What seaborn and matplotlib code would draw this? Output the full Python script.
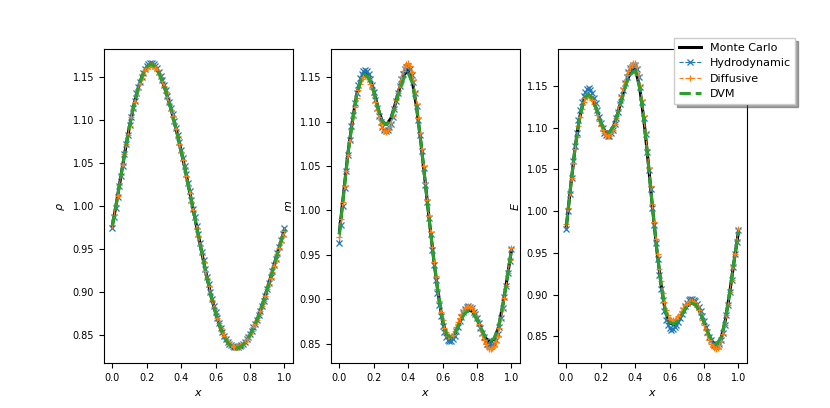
import numpy as np
import matplotlib
matplotlib.use("Agg")
import matplotlib.pyplot as plt
import seaborn as sns

# the reference lines (MC, DVM) read on a 0.025 grid; marker series are sampled every 0.01
x_line = np.linspace(0.0, 1.0, 41)
x_mark = np.linspace(0.0, 1.0, 101)

# ---- density rho ----
rho_mc = [0.977, 1.005, 1.035, 1.065, 1.093, 1.117, 1.137, 1.152, 1.162, 1.165,
          1.162, 1.153, 1.140, 1.124, 1.106, 1.086, 1.064, 1.041, 1.016, 0.991,
          0.966, 0.941, 0.917, 0.895, 0.876, 0.860, 0.848, 0.840, 0.835, 0.834,
          0.836, 0.842, 0.850, 0.860, 0.872, 0.887, 0.903, 0.920, 0.938, 0.955, 0.972]
rho_dvm = [0.977, 1.005, 1.035, 1.065, 1.093, 1.117, 1.137, 1.152, 1.162, 1.165,
           1.162, 1.153, 1.140, 1.124, 1.106, 1.086, 1.064, 1.041, 1.016, 0.991,
           0.966, 0.941, 0.917, 0.895, 0.876, 0.860, 0.848, 0.840, 0.836, 0.835,
           0.837, 0.842, 0.850, 0.860, 0.872, 0.887, 0.903, 0.920, 0.938, 0.955, 0.972]
rho_hydro = [0.975, 0.987, 0.998, 1.010, 1.023, 1.035, 1.047, 1.060, 1.072, 1.083, 1.094,
             1.104, 1.114, 1.122, 1.131, 1.138, 1.144, 1.150, 1.155, 1.159, 1.163,
             1.165, 1.166, 1.166, 1.165, 1.163, 1.160, 1.156, 1.151, 1.146, 1.141,
             1.135, 1.128, 1.121, 1.114, 1.107, 1.099, 1.091, 1.083, 1.074, 1.065,
             1.056, 1.047, 1.037, 1.027, 1.017, 1.007, 0.997, 0.987, 0.977, 0.967,
             0.957, 0.947, 0.937, 0.927, 0.918, 0.909, 0.900, 0.892, 0.884, 0.877,
             0.870, 0.864, 0.858, 0.853, 0.849, 0.845, 0.842, 0.840, 0.838, 0.837,
             0.836, 0.836, 0.836, 0.837, 0.838, 0.840, 0.842, 0.845, 0.848, 0.851,
             0.855, 0.859, 0.863, 0.868, 0.873, 0.878, 0.884, 0.890, 0.896, 0.903,
             0.910, 0.917, 0.924, 0.931, 0.938, 0.945, 0.952, 0.960, 0.967, 0.974]
rho_diff = [0.978, 0.990, 1.001, 1.012, 1.024, 1.036, 1.048, 1.060, 1.072, 1.083, 1.093,
            1.103, 1.113, 1.121, 1.129, 1.136, 1.143, 1.149, 1.154, 1.158, 1.161,
            1.163, 1.164, 1.164, 1.163, 1.161, 1.158, 1.154, 1.150, 1.145, 1.139,
            1.133, 1.127, 1.120, 1.112, 1.105, 1.097, 1.089, 1.081, 1.072, 1.063,
            1.054, 1.045, 1.035, 1.025, 1.015, 1.005, 0.995, 0.985, 0.975, 0.965,
            0.955, 0.945, 0.935, 0.925, 0.916, 0.907, 0.899, 0.891, 0.883, 0.876,
            0.870, 0.864, 0.858, 0.853, 0.849, 0.845, 0.842, 0.840, 0.838, 0.837,
            0.836, 0.836, 0.836, 0.837, 0.838, 0.840, 0.842, 0.845, 0.848, 0.851,
            0.855, 0.859, 0.863, 0.868, 0.873, 0.878, 0.884, 0.890, 0.896, 0.903,
            0.909, 0.916, 0.923, 0.930, 0.937, 0.944, 0.951, 0.958, 0.965, 0.971]

# ---- momentum m ----
m_mc = [0.975, 1.020, 1.065, 1.100, 1.130, 1.148, 1.155, 1.150, 1.135, 1.115,
        1.100, 1.097, 1.104, 1.120, 1.138, 1.153, 1.158, 1.145, 1.115, 1.075,
        1.030, 0.985, 0.942, 0.905, 0.875, 0.858, 0.855, 0.862, 0.874, 0.884,
        0.888, 0.886, 0.878, 0.866, 0.856, 0.852, 0.855, 0.868, 0.893, 0.923, 0.955]
m_dvm = [0.973, 1.019, 1.064, 1.099, 1.129, 1.147, 1.153, 1.148, 1.134, 1.115,
         1.100, 1.097, 1.103, 1.118, 1.135, 1.149, 1.155, 1.143, 1.114, 1.075,
         1.030, 0.985, 0.943, 0.906, 0.877, 0.860, 0.857, 0.863, 0.874, 0.883,
         0.887, 0.885, 0.877, 0.866, 0.857, 0.853, 0.856, 0.869, 0.893, 0.923, 0.955]
m_hydro = [0.963, 0.984, 1.005, 1.025, 1.045, 1.063, 1.080, 1.095, 1.108, 1.121, 1.133,
           1.142, 1.149, 1.154, 1.157, 1.158, 1.157, 1.154, 1.148, 1.142, 1.134,
           1.125, 1.115, 1.107, 1.100, 1.094, 1.091, 1.090, 1.091, 1.094, 1.098,
           1.105, 1.114, 1.123, 1.132, 1.140, 1.148, 1.154, 1.159, 1.162, 1.163,
           1.160, 1.153, 1.145, 1.132, 1.118, 1.102, 1.085, 1.067, 1.048, 1.029,
           1.010, 0.991, 0.973, 0.955, 0.938, 0.922, 0.907, 0.893, 0.881, 0.870,
           0.863, 0.857, 0.854, 0.853, 0.853, 0.855, 0.859, 0.864, 0.869, 0.875,
           0.880, 0.885, 0.889, 0.891, 0.892, 0.891, 0.890, 0.886, 0.883, 0.879,
           0.873, 0.868, 0.862, 0.857, 0.853, 0.850, 0.848, 0.847, 0.848, 0.850,
           0.854, 0.861, 0.869, 0.879, 0.890, 0.902, 0.915, 0.929, 0.943, 0.957]
m_diff = [0.970, 0.990, 1.009, 1.028, 1.045, 1.062, 1.078, 1.092, 1.105, 1.117, 1.127,
          1.136, 1.143, 1.148, 1.151, 1.152, 1.151, 1.148, 1.143, 1.137, 1.130,
          1.122, 1.113, 1.105, 1.098, 1.093, 1.090, 1.089, 1.091, 1.094, 1.099,
          1.106, 1.114, 1.124, 1.133, 1.142, 1.150, 1.157, 1.162, 1.165, 1.166,
          1.163, 1.156, 1.147, 1.134, 1.120, 1.104, 1.087, 1.069, 1.050, 1.031,
          1.012, 0.994, 0.976, 0.959, 0.942, 0.926, 0.911, 0.898, 0.886, 0.876,
          0.868, 0.863, 0.859, 0.858, 0.858, 0.860, 0.864, 0.869, 0.874, 0.879,
          0.883, 0.887, 0.890, 0.891, 0.892, 0.891, 0.890, 0.886, 0.882, 0.878,
          0.872, 0.866, 0.860, 0.854, 0.849, 0.846, 0.844, 0.844, 0.845, 0.847,
          0.852, 0.859, 0.868, 0.878, 0.889, 0.901, 0.915, 0.929, 0.944, 0.958]

# ---- energy E ----
E_mc = [0.982, 1.030, 1.075, 1.110, 1.132, 1.140, 1.135, 1.122, 1.106, 1.095,
        1.094, 1.102, 1.118, 1.138, 1.156, 1.166, 1.170, 1.150, 1.110, 1.060,
        1.005, 0.955, 0.912, 0.880, 0.866, 0.864, 0.868, 0.877, 0.886, 0.890,
        0.888, 0.880, 0.867, 0.853, 0.843, 0.840, 0.848, 0.870, 0.903, 0.940, 0.975]
E_dvm = [0.982, 1.030, 1.075, 1.110, 1.132, 1.140, 1.135, 1.122, 1.106, 1.095,
         1.094, 1.102, 1.117, 1.136, 1.154, 1.164, 1.168, 1.149, 1.110, 1.060,
         1.005, 0.955, 0.913, 0.881, 0.867, 0.865, 0.869, 0.877, 0.886, 0.890,
         0.888, 0.880, 0.867, 0.853, 0.844, 0.841, 0.849, 0.870, 0.903, 0.940, 0.975]
E_hydro = [0.978, 1.000, 1.020, 1.040, 1.060, 1.078, 1.094, 1.109, 1.121, 1.130, 1.138,
           1.143, 1.146, 1.147, 1.145, 1.141, 1.135, 1.129, 1.121, 1.113, 1.106,
           1.099, 1.094, 1.091, 1.090, 1.090, 1.093, 1.097, 1.104, 1.111, 1.119,
           1.128, 1.137, 1.145, 1.153, 1.161, 1.167, 1.171, 1.173, 1.175, 1.175,
           1.170, 1.160, 1.148, 1.131, 1.112, 1.092, 1.071, 1.049, 1.027, 1.004,
           0.983, 0.962, 0.942, 0.924, 0.907, 0.893, 0.880, 0.870, 0.864, 0.860,
           0.858, 0.859, 0.861, 0.864, 0.867, 0.872, 0.877, 0.882, 0.886, 0.890,
           0.893, 0.895, 0.895, 0.894, 0.892, 0.889, 0.885, 0.880, 0.874, 0.868,
           0.861, 0.855, 0.849, 0.845, 0.841, 0.839, 0.838, 0.838, 0.841, 0.846,
           0.854, 0.863, 0.875, 0.888, 0.903, 0.918, 0.933, 0.948, 0.963, 0.977]
E_diff = [0.985, 1.004, 1.022, 1.040, 1.057, 1.074, 1.089, 1.102, 1.113, 1.122, 1.130,
          1.135, 1.137, 1.138, 1.136, 1.133, 1.128, 1.122, 1.115, 1.108, 1.102,
          1.097, 1.093, 1.091, 1.090, 1.090, 1.093, 1.097, 1.104, 1.112, 1.120,
          1.129, 1.138, 1.147, 1.155, 1.163, 1.168, 1.172, 1.175, 1.177, 1.177,
          1.172, 1.163, 1.150, 1.133, 1.114, 1.094, 1.074, 1.052, 1.030, 1.008,
          0.987, 0.967, 0.948, 0.931, 0.916, 0.902, 0.891, 0.882, 0.876, 0.871,
          0.870, 0.869, 0.870, 0.871, 0.874, 0.877, 0.880, 0.884, 0.887, 0.889,
          0.891, 0.892, 0.892, 0.891, 0.889, 0.886, 0.881, 0.876, 0.870, 0.864,
          0.857, 0.851, 0.846, 0.841, 0.838, 0.836, 0.835, 0.836, 0.840, 0.844,
          0.853, 0.863, 0.875, 0.888, 0.903, 0.918, 0.934, 0.949, 0.964, 0.978]

panels = [
    (r"$\rho$", [rho_mc, rho_hydro, rho_diff, rho_dvm]),
    (r"$m$", [m_mc, m_hydro, m_diff, m_dvm]),
    (r"$E$", [E_mc, E_hydro, E_diff, E_dvm]),
]

labels = ["Monte Carlo", "Hydrodynamic", "Diffusive", "DVM"]
grids = [x_line, x_mark, x_mark, x_line]
# seaborn paints marker edges white by default, so the x / + markers need an explicit edge colour
styles = [
    dict(color="black", linestyle="-", linewidth=2.2),
    dict(color="C0", linestyle="--", linewidth=0.8, marker="x", markersize=4,
         markeredgecolor="C0", markeredgewidth=0.9),
    dict(color="C1", linestyle="--", linewidth=0.8, marker="+", markersize=5,
         markeredgecolor="C1", markeredgewidth=0.9),
    dict(color="C2", linestyle="--", linewidth=2.2),
]

fig, axes = plt.subplots(1, 3, figsize=(8.3, 4.08), dpi=100)

for ax, (ylab, series) in zip(axes, panels):
    for xs, vals, lab, st in zip(grids, series, labels, styles):
        sns.lineplot(x=xs, y=vals, ax=ax, label=lab, legend=False, **st)
    if ax.get_legend() is not None:
        ax.get_legend().remove()
    ax.set_xlabel(r"$x$", fontsize=8)
    ax.set_ylabel(ylab, fontsize=8)
    ax.tick_params(labelsize=7)
    ax.set_xticks([0.0, 0.2, 0.4, 0.6, 0.8, 1.0])

handles, labs = axes[2].get_legend_handles_labels()
fig.legend(handles, labs, loc="upper right", bbox_to_anchor=(0.965, 0.92),
           fontsize=8, shadow=True, fancybox=False, framealpha=1)

fig.savefig("out.png", dpi=100)
